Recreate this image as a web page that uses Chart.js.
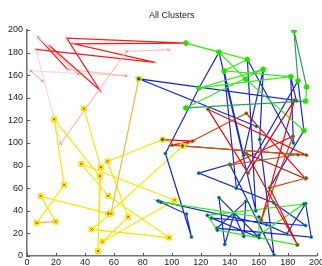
<!DOCTYPE html>
<html><head><meta charset="utf-8">
<script src="https://cdn.jsdelivr.net/npm/chart.js@4/dist/chart.umd.min.js"></script>
<style>html,body{margin:0;padding:0;background:#fff}canvas{display:block}</style>
</head><body>
<canvas id="c" width="322" height="266"></canvas>
<script>
// ---- data ----
const titleText = "All Clusters";
const xTicks = [0,20,40,60,80,100,120,140,160,180,200];
const yTicks = [0,20,40,60,80,100,120,140,160,180,200];

const pinkPts = [[10.6,154.8],[2.8,163.8],[68.3,159.4],[28,165.2],[7.6,193.6],[35.4,160.9],[15.4,186.3],[50.3,146.7],[27.4,192.8],[109.7,188.4],[32.4,187.8],[88.3,171.3],[6.2,182.9],[23.2,99.4],[68.7,181],[97.9,182.6]];
const yellowPts = [[39.3,130.4],[51,78.5],[49,4.3],[50.3,70.7],[18.8,121],[25.7,62.9],[6.7,29.3],[19.8,30.4],[9.4,53],[56,37.5],[107.8,97.4],[93.6,103],[55.6,83.8],[69.9,34.5],[52.2,12.7],[102,49.3],[37.5,81.5],[56.1,53.3],[98.2,16.3],[44.6,23.5],[58,37.5],[77.2,156.8]];
const bluePts = [[158.4,114.8],[77.2,156.8],[186,137.5],[182.1,158.8],[184,100],[152.2,173.9],[158,40],[132.6,180.3],[118.8,148.7],[95.6,90.7],[113.6,16.8],[110.1,37.1],[90.6,48.7],[165.3,27.8],[179.5,19.7],[192.4,46.4],[196.3,16.8],[131.2,24.6],[151,48.1],[149.7,17.4],[143,36.5],[136.6,10.4],[132.6,51.6],[160.2,16.3],[127.4,33.6],[192.4,27],[170.3,47.2],[118.6,73.3],[140,81.2],[170.6,0.9],[160.7,103.2],[163.2,165.2],[149.6,89],[136.1,163.8],[144.6,60],[187.1,155],[191.2,111],[167.6,60.3]];
const greenPts = [[187.1,155],[184.4,199.4],[193.1,149.6],[192.4,137.1],[109.7,131],[163.2,165.2],[118.8,148.7],[182.1,158.8],[136.1,163.8],[152.2,173.9],[109.7,188.4],[132.6,180.3],[151,156.5],[191.2,111]];
const greenLowPts = [[186.7,9.9],[131.5,22.9],[124.6,36],[191.2,46],[160.2,18.5],[160.2,34.5],[92.4,47.6]];
const redPts = [[93.6,103],[114.3,101.7],[100.2,98],[192.9,89.3],[125,129.8],[152.6,73.3],[184.8,138],[161.8,31.9],[183.7,106],[140.5,80.6],[187.1,89.8],[107.4,97.4],[151.5,126.3],[192.4,68.4],[151.5,90.7],[186.7,9.9],[167.6,60.3],[192.9,69]];

// ---- styles ----
const PK='#ffbcbc', PL='#ffd6d6', RD='#ff1a1a';
const pinkSeg = [PK,PL,PK,RD,PK,PL,RD,RD,RD,RD,RD,RD,PL,PK,PK];
const YE='#ffe400', OR='#f4b830';
const yellowSeg = [YE,YE,YE,YE,YE,YE,OR,YE,YE,YE,YE,YE,YE,YE,YE,YE,YE,YE,YE,YE,OR];
const BL='#1426dc';
const blueSeg = bluePts.map(()=>BL);
const GR='#33ee10', TE='#2c9c5a';
const greenSeg = [TE,TE,GR,TE,GR,GR,GR,GR,GR,GR,GR,GR,GR];
const greenLowSeg = greenLowPts.map(()=>GR);
const R1='#ff0000', R2='#b01010', R3='#d84010', R4='#b06020';
const redSeg = [R1,R1,R1,R1,R1,R2,R1,R3,R1,R4,R4,R3,R1,R2,R1,R1,R3];

const pts = a => a.map(p => ({x:p[0], y:p[1]}));
function lineDs(a, seg, order){
  return {data:pts(a), showLine:true, borderWidth:1.2, pointRadius:0, pointHoverRadius:0,
    borderColor:seg[0], segment:{borderColor:c=>seg[c.p0DataIndex]}, order:order};
}
function markDs(a, opt, order){
  return Object.assign({data:pts(a), showLine:false, order:order}, opt);
}

const datasets = [
  lineDs(pinkPts, pinkSeg, 20),
  lineDs(yellowPts, yellowSeg, 19),
  lineDs(bluePts, blueSeg, 18),
  lineDs(greenLowPts, greenLowSeg, 17),
  lineDs(greenPts, greenSeg, 16),
  lineDs(redPts, redSeg, 15),
  markDs(pinkPts, {pointStyle:'crossRot', pointRadius:1.8, borderColor:'#ff8080', borderWidth:1, backgroundColor:'#ff8080'}, 9),
  markDs(yellowPts, {pointStyle:'rect', pointRadius:3.4, borderColor:'#f2e000', borderWidth:1, backgroundColor:'#ffff20'}, 8),
  markDs(yellowPts, {pointStyle:'crossRot', pointRadius:1.5, borderColor:'#ee2020', borderWidth:1}, 7),
  markDs(bluePts, {pointStyle:'circle', pointRadius:1.6, borderColor:'#22cc22', borderWidth:0.8, backgroundColor:'#1426dc'}, 6),
  markDs(greenLowPts, {pointStyle:'circle', pointRadius:1.6, borderColor:'#22cc22', borderWidth:0.8, backgroundColor:'#1426dc'}, 5),
  markDs(redPts, {pointStyle:'circle', pointRadius:1.6, borderColor:'#22cc22', borderWidth:0.8, backgroundColor:'#ee0000'}, 4),
  markDs(greenPts, {pointStyle:'star', pointRadius:3, borderColor:'#22e000', borderWidth:1.4}, 3)
];

const inwardTicks = {
  id:'inwardTicks',
  afterDraw(chart){
    const {ctx, chartArea:a, scales:{x, y}} = chart;
    ctx.save(); ctx.strokeStyle='#555'; ctx.lineWidth=1;
    x.ticks.forEach(t=>{const p=Math.round(x.getPixelForValue(t.value))+0.5; ctx.beginPath(); ctx.moveTo(p,a.bottom); ctx.lineTo(p,a.bottom-3); ctx.stroke();});
    y.ticks.forEach(t=>{const p=Math.round(y.getPixelForValue(t.value))+0.5; ctx.beginPath(); ctx.moveTo(a.left,p); ctx.lineTo(a.left+3,p); ctx.stroke();});
    ctx.restore();
  }
};

const tickFont = {family:'"Liberation Sans", Arial, sans-serif', size:9};
new Chart(document.getElementById('c'), {
  type:'scatter',
  data:{datasets},
  options:{
    responsive:false, animation:false, events:[],
    layout:{padding:{left:0, right:5, top:0, bottom:0}},
    plugins:{
      legend:{display:false}, tooltip:{enabled:false},
      title:{display:true, text:titleText, fullSize:false, color:'#222',
        font:{family:'"Liberation Sans", Arial, sans-serif', size:9, weight:'normal'},
        padding:{top:10, bottom:9.2}}
    },
    scales:{
      x:{type:'linear', min:0, max:200,
        afterBuildTicks:s=>{s.ticks = xTicks.map(v=>({value:v}));},
        afterFit:s=>{s.height=10; s.paddingLeft=0; s.paddingRight=0;},
        ticks:{font:tickFont, color:'#222', padding:1, maxRotation:0, autoSkip:false},
        grid:{display:false, drawTicks:false},
        border:{display:true, color:'#777', width:1.6}},
      y:{type:'linear', min:0, max:200,
        afterBuildTicks:s=>{s.ticks = yTicks.map(v=>({value:v}));},
        afterFit:s=>{s.width=27; s.paddingTop=0; s.paddingBottom=0;},
        ticks:{font:tickFont, color:'#222', padding:4, autoSkip:false},
        grid:{display:false, drawTicks:false},
        border:{display:true, color:'#777', width:1.6}}
    }
  },
  plugins:[inwardTicks]
});
</script>
</body></html>
